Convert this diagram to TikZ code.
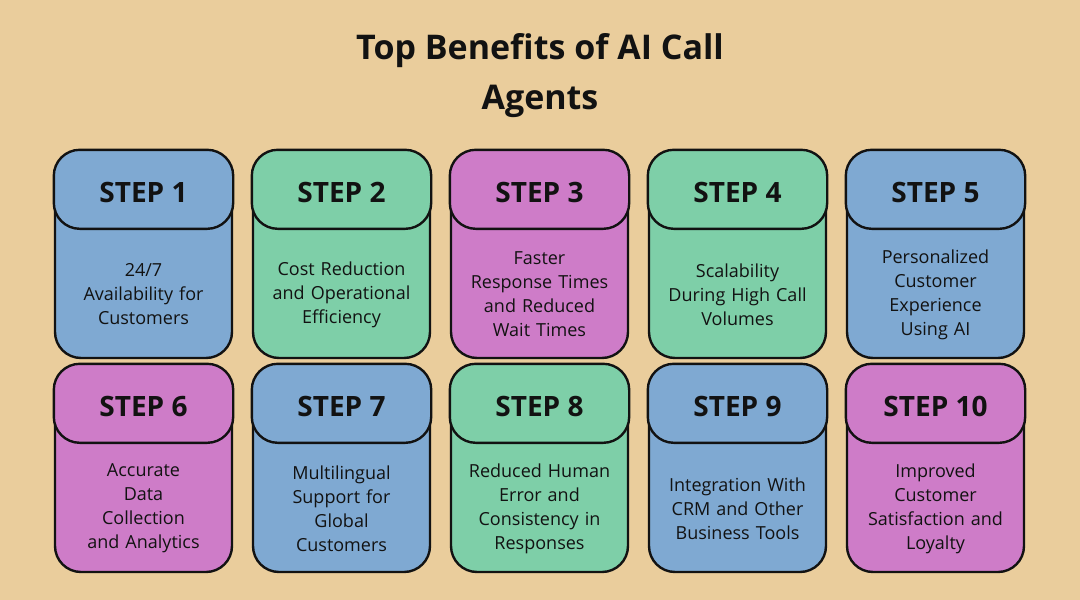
\documentclass[tikz,border=0pt]{standalone}
\usepackage{fontspec}
\setmainfont{Open Sans}
\definecolor{bgsand}{HTML}{EACD9C}
\definecolor{stepblue}{HTML}{7FA9D2}
\definecolor{stepgreen}{HTML}{7ECFA8}
\definecolor{steppink}{HTML}{CE7CC8}
\definecolor{inkdark}{HTML}{121212}
\tikzset{
  card/.style={draw=inkdark, line width=2.4pt, rounded corners=26pt, minimum width=177pt, minimum height=207pt, inner sep=0pt},
  cardhead/.style={draw=inkdark, line width=2.4pt, rounded corners=26pt},
  steplabel/.style={font=\bfseries\fontsize{28}{32}\selectfont, text=inkdark},
  stepbody/.style={font=\fontsize{18}{24}\selectfont, text=inkdark, align=center, text width=170pt},
}
\begin{document}
\begin{tikzpicture}[x=1pt,y=-1pt]
\useasboundingbox[fill=bgsand] (0,0) rectangle (1080,600);
\node[font=\bfseries\fontsize{34}{50}\selectfont, align=center, text=inkdark] (title) at (540,76) {Top Benefits of AI Call\\Agents};
% cards: x, y, colour, number, text
\foreach \cx/\cy/\col/\n/\txt in {
  143.5/254.5/stepblue/1/{24/7\\Availability for\\Customers},
  341.5/254.5/stepgreen/2/{Cost Reduction\\and Operational\\Efficiency},
  539.5/254.5/steppink/3/{Faster\\Response Times\\and Reduced\\Wait Times},
  737.5/254.5/stepgreen/4/{Scalability\\During High Call\\Volumes},
  935.5/254.5/stepblue/5/{Personalized\\Customer\\Experience\\Using AI},
  143.5/468.5/steppink/6/{Accurate\\Data\\Collection\\and Analytics},
  341.5/468.5/stepblue/7/{Multilingual\\Support for\\Global\\Customers},
  539.5/468.5/stepgreen/8/{Reduced Human\\Error and\\Consistency in\\Responses},
  737.5/468.5/stepblue/9/{Integration With\\CRM and Other\\Business Tools},
  935.5/468.5/steppink/10/{Improved\\Customer\\Satisfaction and\\Loyalty}} {
  \node[card, fill=\col] (card\n) at (\cx,\cy) {};
  \draw[cardhead, fill=\col] (card\n.north west) rectangle ([yshift=-79pt]card\n.north east);
  \node[steplabel] (head\n) at ([yshift=-43pt]card\n.north) {STEP \n};
  \node[stepbody] (body\n) at ([yshift=-40pt]card\n.center) {\txt};
}
\end{tikzpicture}
\end{document}
